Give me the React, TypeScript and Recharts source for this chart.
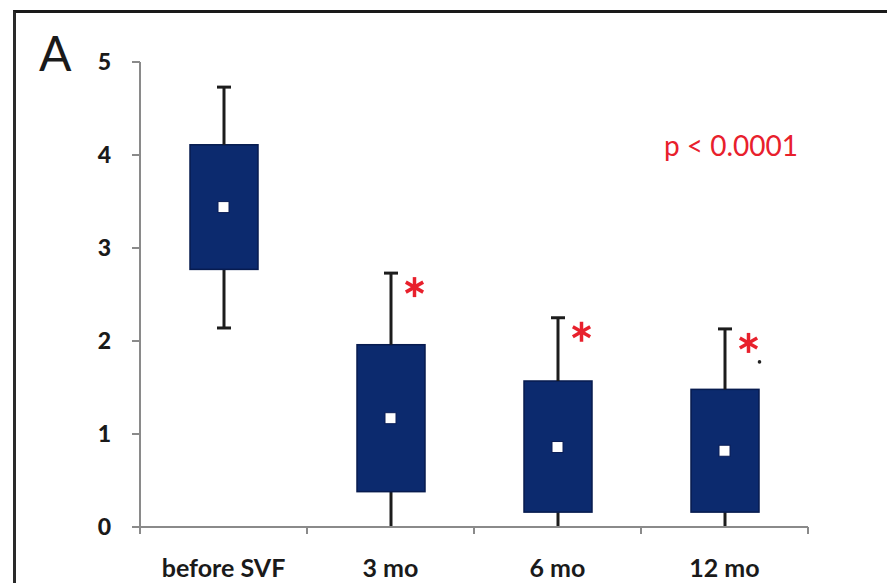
import { ComposedChart, Bar, Scatter, XAxis, YAxis } from "recharts";

const GROUPS = ["before SVF", "3 mo", "6 mo", "12 mo"];
const POS = [0.5, 1.5, 2.5, 3.5];
const MIN = [2.14, 0, 0, 0];
const Q1 = [2.77, 0.38, 0.16, 0.16];
const Q3 = [4.11, 1.96, 1.57, 1.48];
const MAX = [4.73, 2.73, 2.25, 2.13];
const MEAN = [3.44, 1.17, 0.86, 0.82];
const SIG = [false, true, true, true];
const NOTE = [false, false, false, true];
const Y_TICKS = [0, 1, 2, 3, 4, 5];
const X_TICKS = [0, 0.5, 1, 1.5, 2, 2.5, 3, 3.5, 4];

const BOX = "#0c2a6e";
const WHISKER = "#1c1c1c";
const AXIS = "#8a8a8a";
const RED = "#e8202c";
const FONT = "Lato, 'Open Sans', sans-serif";

const data = GROUPS.map((name, i) => ({
  name,
  x: POS[i],
  min: MIN[i],
  base: MIN[i],
  lower: Q1[i] - MIN[i],
  box: Q3[i] - Q1[i],
  upper: MAX[i] - Q3[i],
  mean: MEAN[i],
  sig: SIG[i] ? MAX[i] : null,
  note: NOTE[i],
}));

const Empty = () => null;

const LowerWhisker = (p: any) => {
  const cx = p.x + p.width / 2;
  const bottom = p.y + p.height;
  return (
    <g>
      <line x1={cx} x2={cx} y1={p.y} y2={bottom} stroke={WHISKER} strokeWidth={3} />
      {p.payload.min > 0 && (
        <line x1={cx - 7} x2={cx + 7} y1={bottom} y2={bottom} stroke={WHISKER} strokeWidth={3} />
      )}
    </g>
  );
};

const UpperWhisker = (p: any) => {
  const cx = p.x + p.width / 2;
  return (
    <g>
      <line x1={cx} x2={cx} y1={p.y} y2={p.y + p.height} stroke={WHISKER} strokeWidth={3} />
      <line x1={cx - 7} x2={cx + 7} y1={p.y} y2={p.y} stroke={WHISKER} strokeWidth={3} />
    </g>
  );
};

const BoxShape = (p: any) => (
  <rect x={p.x} y={p.y} width={p.width} height={p.height} fill={BOX} stroke="#071b4f" strokeWidth={1.5} />
);

const MeanShape = (p: any) => (
  <rect x={p.cx - 5.5} y={p.cy - 5.5} width={11} height={11} fill="#ffffff" stroke="#0a1d55" strokeWidth={1} />
);

const Star = (p: any) => {
  if (p.cy == null || isNaN(p.cy)) return null;
  const cx = p.cx + 24;
  const cy = p.cy + 14;
  const r = 10;
  const spokes = [0, 60, 120].map((a) => {
    const rad = ((a + 90) * Math.PI) / 180;
    return (
      <line key={a} x1={cx - r * Math.cos(rad)} y1={cy - r * Math.sin(rad)}
        x2={cx + r * Math.cos(rad)} y2={cy + r * Math.sin(rad)} stroke={RED} strokeWidth={3.5} />
    );
  });
  return (
    <g>
      {spokes}
      {p.payload.note && <circle cx={cx + 11} cy={cy + 19} r={1.8} fill="#222" />}
    </g>
  );
};

const XTick = (p: any) => {
  const v = p.payload.value;
  if (Number.isInteger(v)) {
    return <line x1={p.x} x2={p.x} y1={p.y} y2={p.y + 7} stroke={AXIS} strokeWidth={2} />;
  }
  const idx = POS.indexOf(v);
  return (
    <text x={p.x} y={p.y + 50} textAnchor="middle" fontFamily={FONT} fontWeight={700}
      fontSize={25} fill="#1a1a1a">
      {GROUPS[idx]}
    </text>
  );
};

export default function App() {
  return (
    <div style={{ position: "absolute", left: 0, top: 0, width: 887, height: 583, overflow: "hidden", background: "#fff" }}>
      <div style={{ position: "absolute", left: 13, top: 10, width: 900, height: 600, borderLeft: "3px solid #2a2a2a", borderTop: "3px solid #1a1a1a" }} />
      <div style={{ position: "absolute", left: 39, top: 29, fontFamily: FONT, fontSize: 48, color: "#1a1a1a", lineHeight: 1 }}>A</div>
      <div style={{ position: "absolute", left: 664, top: 131, fontFamily: FONT, fontSize: 28, color: RED, lineHeight: 1 }}>p &lt; 0.0001</div>
      <div style={{ position: "absolute", left: 0, top: 0 }}>
        <ComposedChart width={887} height={583} data={data} margin={{ top: 62, right: 79, bottom: 0, left: 0 }}>
          <XAxis dataKey="x" type="number" domain={[0, 4]} ticks={X_TICKS} interval={0}
            tick={<XTick />} tickLine={false} tickSize={0} tickMargin={0} height={56}
            axisLine={{ stroke: AXIS, strokeWidth: 2 }} />
          <YAxis type="number" domain={[0, 5]} ticks={Y_TICKS} interval={0} width={140}
            tickSize={8} tickMargin={21} tickLine={{ stroke: AXIS, strokeWidth: 2 }}
            axisLine={{ stroke: AXIS, strokeWidth: 2 }}
            tick={{ fontFamily: FONT, fontWeight: 900, fontSize: 23, fill: "#1a1a1a" }} />
          <Bar dataKey="base" stackId="b" barSize={68} shape={<Empty />} isAnimationActive={false} />
          <Bar dataKey="lower" stackId="b" barSize={68} shape={<LowerWhisker />} isAnimationActive={false} />
          <Bar dataKey="box" stackId="b" barSize={68} shape={<BoxShape />} isAnimationActive={false} />
          <Bar dataKey="upper" stackId="b" barSize={68} shape={<UpperWhisker />} isAnimationActive={false} />
          <Scatter dataKey="mean" shape={<MeanShape />} isAnimationActive={false} />
          <Scatter dataKey="sig" shape={<Star />} isAnimationActive={false} />
        </ComposedChart>
      </div>
    </div>
  );
}
